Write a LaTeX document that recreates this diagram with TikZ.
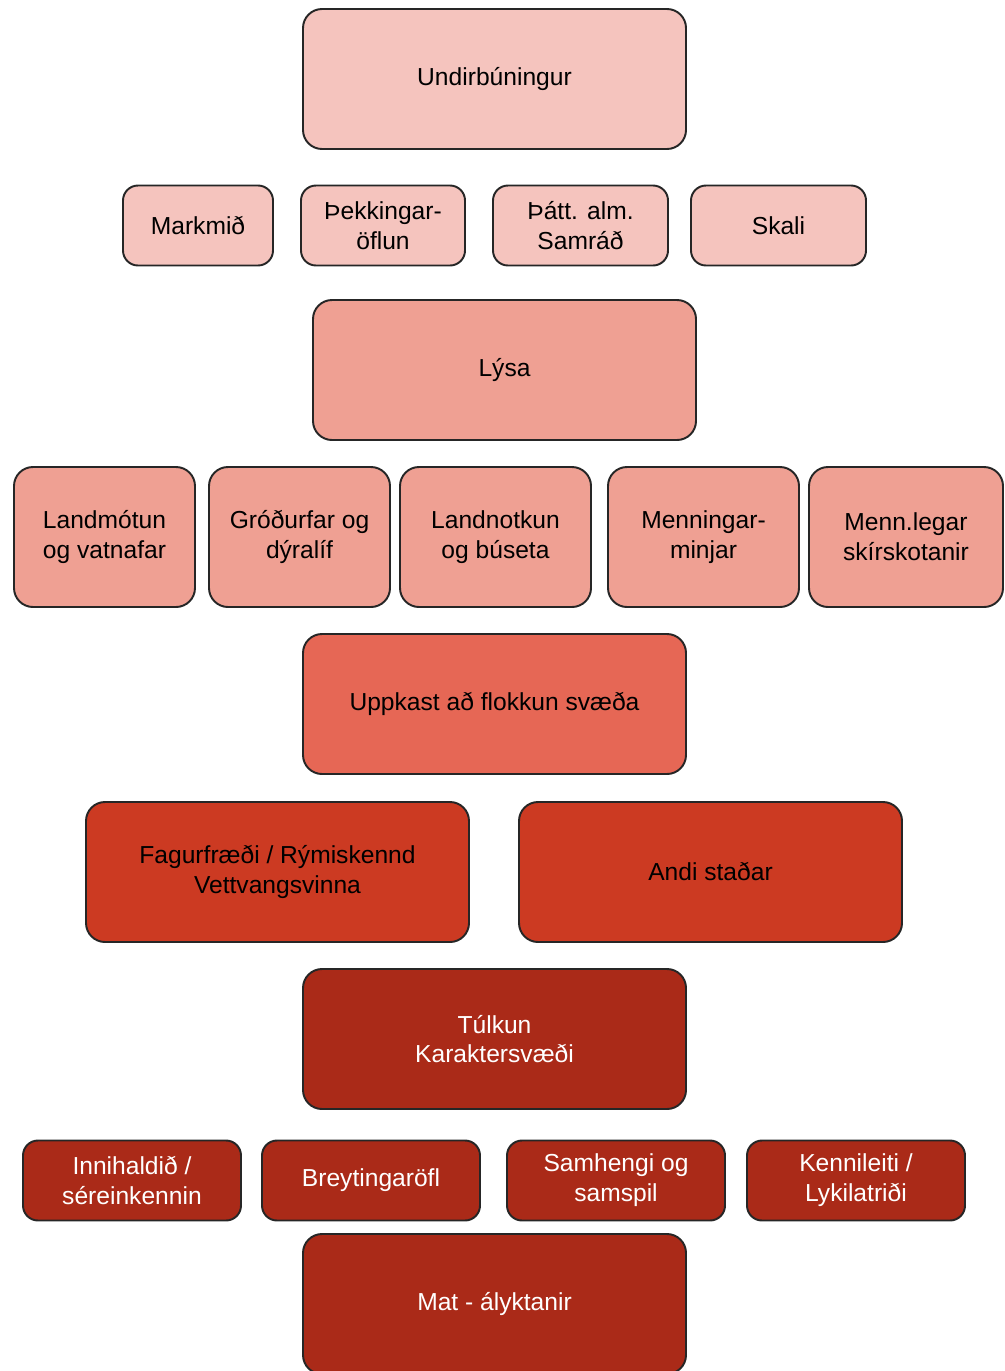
\documentclass[tikz,border=0pt]{standalone}
\usepackage{fontspec}
\setmainfont{Liberation Sans}
\usepackage{xcolor}
\definecolor{tintA}{HTML}{F5C4BE}
\definecolor{tintB}{HTML}{EFA093}
\definecolor{tintC}{HTML}{E66755}
\definecolor{tintD}{HTML}{CC3A22}
\definecolor{tintE}{HTML}{AA2A18}
\tikzset{
  basenode/.style = {align=center, inner sep=2pt, text centered, rectangle, draw=black!85, line width=1.1pt,
                     rounded corners=0.38cm, font=\fontsize{14}{17}\selectfont},
  big_node/.style = {basenode, minimum width=7.66cm, minimum height=2.8cm},
  row_node/.style = {basenode, minimum height=2.8cm},
  small_node/.style = {basenode, minimum height=1.6cm, rounded corners=0.3cm},
  a_node/.style = {fill=tintA},
  b_node/.style = {fill=tintB},
  c_node/.style = {fill=tintC},
  d_node/.style = {fill=tintD},
  e_node/.style = {fill=tintE, text=white},
}

\begin{document}
\begin{tikzpicture}
    \useasboundingbox (0,0) rectangle (20.1,-27.42);
    \clip (0,0) rectangle (20.1,-27.42);
    % Undirbuningur
    \node [big_node, a_node] (prep) at (9.89,-1.58) {Undirbúningur};
    \node [small_node, a_node, minimum width=3.0cm] (goal) at (3.96,-4.51) {Markmið};
    \node [small_node, a_node, minimum width=3.28cm] (know) at (7.66,-4.51) {Þekkingar-\\öflun};
    \node [small_node, a_node, minimum width=3.5cm] (part) at (11.61,-4.51) {Þátt. alm.\\Samráð};
    \node [small_node, a_node, minimum width=3.5cm] (scale) at (15.57,-4.51) {Skali};
    % Lysa
    \node [big_node, b_node] (desc) at (10.09,-7.4) {Lýsa};
    \node [row_node, b_node, minimum width=3.62cm] (land) at (2.09,-10.74) {Landmótun\\og vatnafar};
    \node [row_node, b_node, minimum width=3.62cm] (veg) at (5.99,-10.74) {Gróðurfar og\\dýralíf};
    \node [row_node, b_node, minimum width=3.82cm] (use) at (9.91,-10.74) {Landnotkun\\og búseta};
    \node [row_node, b_node, minimum width=3.82cm] (herit) at (14.07,-10.74) {Menningar-\\minjar};
    \node [row_node, b_node, minimum width=3.88cm] (cult) at (18.12,-10.74) {Menn.legar\\skírskotanir};
    % Uppkast
    \node [big_node, c_node] (draft) at (9.89,-14.08) {Uppkast að flokkun svæða};
    \node [big_node, d_node] (aest) at (5.55,-17.44) {Fagurfræði / Rýmiskennd\\Vettvangsvinna};
    \node [big_node, d_node] (spirit) at (14.21,-17.44) {Andi staðar};
    % Tulkun
    \node [big_node, e_node] (interp) at (9.89,-20.78) {Túlkun\\Karaktersvæði};
    \node [small_node, e_node, minimum width=4.36cm] (cont) at (2.64,-23.61) {Innihaldið /\\séreinkennin};
    \node [small_node, e_node, minimum width=4.36cm] (chg) at (7.42,-23.61) {Breytingaröfl};
    \node [small_node, e_node, minimum width=4.36cm] (ctx) at (12.32,-23.61) {Samhengi og\\samspil};
    \node [small_node, e_node, minimum width=4.36cm] (mark) at (17.12,-23.61) {Kennileiti /\\Lykilatriði};
    \node [big_node, e_node] (eval) at (9.89,-26.08) {Mat - ályktanir};
\end{tikzpicture}
\end{document}
